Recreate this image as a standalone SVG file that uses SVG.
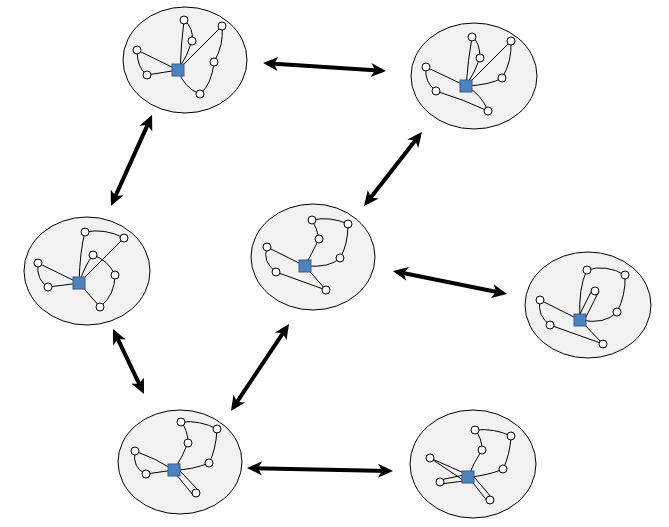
<svg xmlns="http://www.w3.org/2000/svg" width="669" height="527" viewBox="0 0 669 527">
<style>
.cl{fill:#f2f2f2;stroke:#000;stroke-width:1}
.e{fill:none;stroke:#000;stroke-width:1}
.n{fill:#fff;stroke:#000;stroke-width:1}
.s{fill:#4f81bd;stroke:#385d8a;stroke-width:1}
.ar{stroke:#000;stroke-width:4;fill:none;marker-start:url(#ah);marker-end:url(#ah)}
</style>
<defs>
<marker id="ah" markerUnits="userSpaceOnUse" viewBox="0 0 16 16" refX="12" refY="8" markerWidth="16" markerHeight="16" orient="auto-start-reverse">
<path d="M16,8 L1,1 L5,8 L1,15 z" fill="#000"/>
</marker>
</defs>
<rect width="669" height="527" fill="#fff"/>

<g id="connectors">
<line class="ar" x1="267" y1="63.3" x2="382" y2="70.7"/>
<line class="ar" x1="150.4" y1="118.6" x2="112.6" y2="202.4"/>
<line class="ar" x1="419.5" y1="135.1" x2="366.5" y2="202.9"/>
<line class="ar" x1="396.9" y1="271.8" x2="503.1" y2="293.2"/>
<line class="ar" x1="114.7" y1="332.6" x2="142.3" y2="390.4"/>
<line class="ar" x1="286.8" y1="327.3" x2="233.2" y2="407.7"/>
<line class="ar" x1="251" y1="468.1" x2="389" y2="470.9"/>
</g>

<g id="cluster1">
<ellipse class="cl" cx="185" cy="60" rx="62" ry="53"/>
<path class="e" d="M180,70 Q181,45 184,20 Q194,28 192,41 Q188,55 178,70 M178,70 L222,26 Q224,45 214,62 Q212,84 200,94 Q184,88 178,70 M178,70 L137,50 Q137,68 147,75 L178,70"/>
<circle class="n" cx="184" cy="20" r="4"/><circle class="n" cx="192" cy="41" r="4"/><circle class="n" cx="222" cy="26" r="4"/><circle class="n" cx="214" cy="62" r="4"/><circle class="n" cx="200" cy="94" r="4"/><circle class="n" cx="137" cy="50" r="4"/><circle class="n" cx="147" cy="75" r="4"/>
<rect class="s" x="172" y="64" width="12" height="12"/>
</g>

<g id="cluster2">
<ellipse class="cl" cx="474" cy="76" rx="63" ry="53"/>
<path class="e" d="M466,86 Q468,60 472,37 Q480,42 480,58 Q475,72 466,86 M466,86 L511,41 Q512,62 502,78 Q490,85 466,86 M466,86 L426,67 Q424,82 436,91 Q465,100 488,111 Q482,95 466,86"/>
<circle class="n" cx="472" cy="37" r="4"/><circle class="n" cx="480" cy="58" r="4"/><circle class="n" cx="511" cy="41" r="4"/><circle class="n" cx="502" cy="78" r="4"/><circle class="n" cx="488" cy="111" r="4"/><circle class="n" cx="426" cy="67" r="4"/><circle class="n" cx="436" cy="91" r="4"/>
<rect class="s" x="460" y="80" width="12" height="12"/>
</g>

<g id="cluster3">
<ellipse class="cl" cx="87" cy="271" rx="63" ry="54"/>
<path class="e" d="M79,283 Q80,250 85,232 Q105,228 124,238 L79,283 M79,283 Q86,263 93,255 Q108,260 115,275 Q115,295 100,307 L79,283 M79,283 L38,263 Q36,280 48,287 Q65,285 79,283"/>
<circle class="n" cx="85" cy="232" r="4"/><circle class="n" cx="124" cy="238" r="4"/><circle class="n" cx="93" cy="255" r="4"/><circle class="n" cx="115" cy="275" r="4"/><circle class="n" cx="100" cy="307" r="4"/><circle class="n" cx="38" cy="263" r="4"/><circle class="n" cx="48" cy="287" r="4"/>
<rect class="s" x="73" y="277" width="12" height="12"/>
</g>

<g id="cluster4">
<ellipse class="cl" cx="313" cy="257" rx="62" ry="53"/>
<path class="e" d="M305,266 Q311,255 319,239 Q317,228 312,220 Q330,216 348,224 Q348,245 340,258 Q330,268 305,266 M305,266 L267,247 Q262,262 276,272 L326,290 L305,266"/>
<circle class="n" cx="312" cy="220" r="4"/><circle class="n" cx="348" cy="224" r="4"/><circle class="n" cx="319" cy="239" r="4"/><circle class="n" cx="340" cy="258" r="4"/><circle class="n" cx="326" cy="290" r="4"/><circle class="n" cx="267" cy="247" r="4"/><circle class="n" cx="276" cy="272" r="4"/>
<rect class="s" x="299" y="260" width="12" height="12"/>
</g>

<g id="cluster5">
<ellipse class="cl" cx="588" cy="305" rx="63" ry="53"/>
<path class="e" d="M580,320 Q578,288 587,270 Q606,264 625,275 Q626,295 617,312 Q605,325 580,320 M578,318 L592,290 M585,319 L598,293 M580,320 L540,300 Q537,316 550,325 L603,344 L580,320"/>
<circle class="n" cx="587" cy="270" r="4"/><circle class="n" cx="625" cy="275" r="4"/><circle class="n" cx="595" cy="291" r="4"/><circle class="n" cx="617" cy="312" r="4"/><circle class="n" cx="603" cy="344" r="4"/><circle class="n" cx="540" cy="300" r="4"/><circle class="n" cx="550" cy="325" r="4"/>
<rect class="s" x="574" y="314" width="12" height="12"/>
</g>

<g id="cluster6">
<ellipse class="cl" cx="180" cy="462" rx="62" ry="52"/>
<path class="e" d="M174,470 Q182,458 188,443 Q188,430 181,422 Q200,420 217,429 Q216,450 209,463 Q192,470 174,470 M174,470 Q155,458 135,451 Q132,468 146,474 L174,470 M175,473 L193,495 M180,471 L199,491"/>
<circle class="n" cx="181" cy="422" r="4"/><circle class="n" cx="217" cy="429" r="4"/><circle class="n" cx="188" cy="443" r="4"/><circle class="n" cx="209" cy="463" r="4"/><circle class="n" cx="196" cy="493" r="4"/><circle class="n" cx="135" cy="451" r="4"/><circle class="n" cx="146" cy="474" r="4"/>
<rect class="s" x="168" y="464" width="12" height="12"/>
</g>

<g id="cluster7">
<ellipse class="cl" cx="473" cy="464" rx="63" ry="54"/>
<path class="e" d="M468,477 Q474,462 482,450 Q482,438 475,430 Q494,428 511,436 Q510,455 503,469 Q487,476 468,477 M464,473 L430,458 M463,480 L430,458 M464,475 L440,480 M464,481 L440,484 M470,479 L488,502 M474,477 L492,498"/>
<circle class="n" cx="475" cy="430" r="4"/><circle class="n" cx="511" cy="436" r="4"/><circle class="n" cx="482" cy="450" r="4"/><circle class="n" cx="503" cy="469" r="4"/><circle class="n" cx="430" cy="458" r="4"/><circle class="n" cx="440" cy="482" r="4"/><circle class="n" cx="490" cy="500" r="4"/>
<rect class="s" x="462" y="471" width="12" height="12"/>
</g>
</svg>
